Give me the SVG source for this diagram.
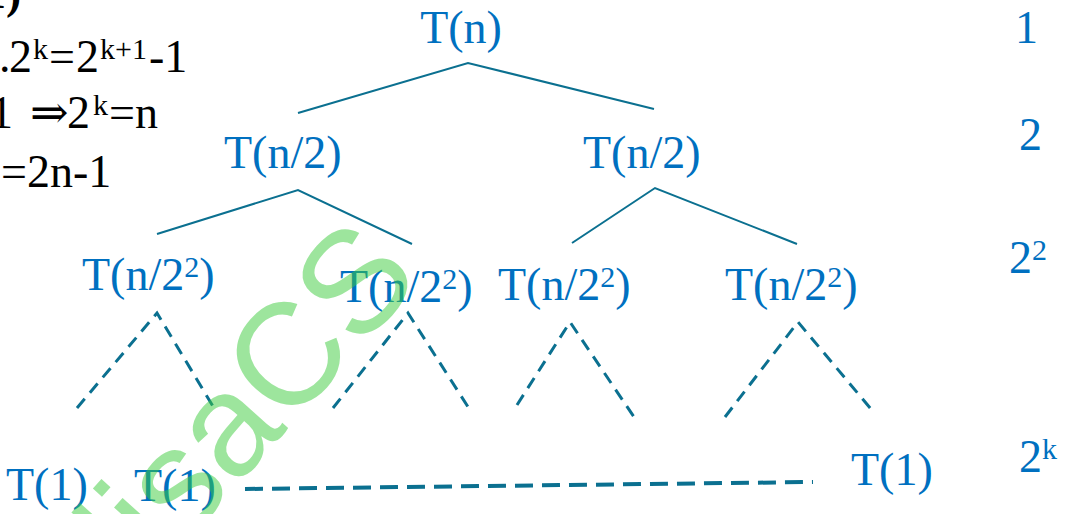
<svg xmlns="http://www.w3.org/2000/svg" width="1068" height="514" viewBox="0 0 1068 514">
<style>
.node{font-family:"Liberation Serif","Times New Roman",serif;font-size:46px;fill:#0070C0}
.blk{font-family:"Liberation Serif","DejaVu Serif","Times New Roman",serif;font-size:46px;fill:#000}
.sup{font-size:30px}
.solid{fill:none;stroke:#0B7090;stroke-width:2}
.dash{fill:none;stroke:#0B7090;stroke-width:3;stroke-dasharray:12 8}
.dash2{fill:none;stroke:#0B7090;stroke-width:4;stroke-dasharray:18 9}
.wm{font-family:"Liberation Sans",Arial,sans-serif;font-size:145px;fill:#3CCB3C;fill-opacity:0.5}
</style>
<rect width="1068" height="514" fill="#fff"/>
<g id="formula">
<text class="blk" font-weight="bold"><tspan x="-17" y="8">1)</tspan></text>
<text class="blk"><tspan x="-1" y="72">.</tspan><tspan x="9" y="72">2</tspan><tspan class="sup" x="33" y="59">k</tspan><tspan x="49" y="72">=</tspan><tspan x="76" y="72">2</tspan><tspan class="sup" x="100" y="59">k+1</tspan><tspan x="149" y="72">-1</tspan></text>
<text class="blk"><tspan x="-10" y="128">1</tspan><tspan x="30" y="128">⇒</tspan><tspan x="67" y="128">2</tspan><tspan class="sup" x="93" y="115">k</tspan><tspan x="109" y="128">=</tspan><tspan x="135" y="128">n</tspan></text>
<text class="blk"><tspan x="1" y="187">=</tspan><tspan x="27" y="187">2n-1</tspan></text>
</g>
<g id="connectors">
<path class="solid" d="M298,113 L468,63 L654,109"/>
<path class="solid" d="M157,234 L298,190 L412,244"/>
<path class="solid" d="M572,243 L655,188 L797,244"/>
<path class="dash" d="M77,408 L157,313 L214,408"/>
<path class="dash" d="M333,408 L408,313 L470,410"/>
<path class="dash" d="M517,405 L570,322 L634,417"/>
<path class="dash" d="M725,417 L798,322 L871,409"/>
<path class="dash2" d="M245,489 L813,482"/>
</g>
<g id="root"><text class="node" x="461" y="43" text-anchor="middle">T(n)</text></g>
<g id="n2-left"><text class="node" x="224" y="168">T(n/2)</text></g>
<g id="n2-right"><text class="node" x="583" y="168">T(n/2)</text></g>
<g id="n4-1"><text class="node" x="82" y="290">T(n/2<tspan class="sup" dy="-13">2</tspan><tspan dy="13">)</tspan></text></g>
<g id="n4-2"><text class="node" x="340" y="302">T(n/2<tspan class="sup" dy="-13">2</tspan><tspan dy="13">)</tspan></text></g>
<g id="n4-3"><text class="node" x="498" y="300">T(n/2<tspan class="sup" dy="-13">2</tspan><tspan dy="13">)</tspan></text></g>
<g id="n4-4"><text class="node" x="725" y="300">T(n/2<tspan class="sup" dy="-13">2</tspan><tspan dy="13">)</tspan></text></g>
<g id="leaf-1"><text class="node" x="6" y="500">T(1)</text></g>
<g id="leaf-2"><text class="node" x="134" y="501">T(1)</text></g>
<g id="leaf-3"><text class="node" x="851" y="485">T(1)</text></g>
<g id="count-0"><text class="node" x="1015" y="43">1</text></g>
<g id="count-1"><text class="node" x="1019" y="150">2</text></g>
<g id="count-2"><text class="node" x="1009" y="273">2<tspan class="sup" dy="-13">2</tspan></text></g>
<g id="count-k"><text class="node" x="1019" y="472">2<tspan class="sup" dy="-13">k</tspan></text></g>
<g id="watermark"><text class="wm" transform="translate(143,590) rotate(-48)">lisaCS</text></g>
</svg>
